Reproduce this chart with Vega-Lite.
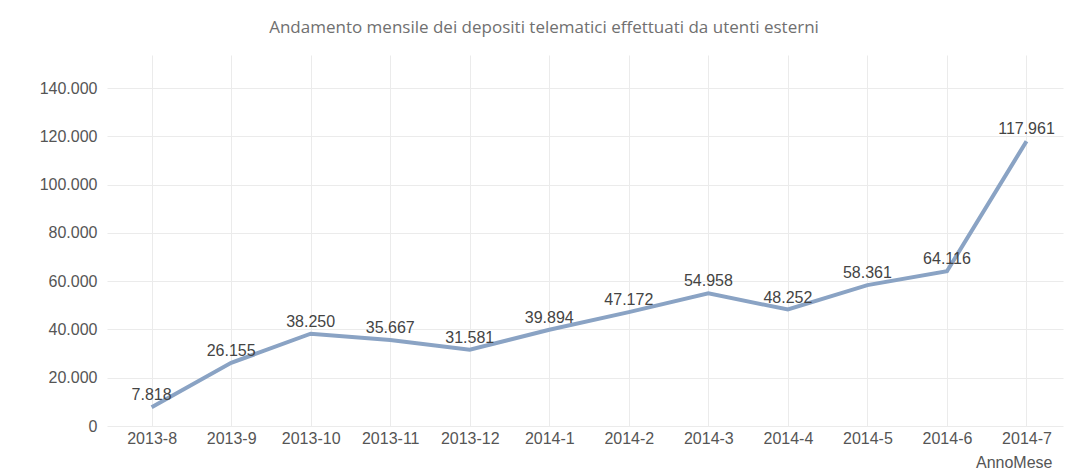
{
  "$schema": "https://vega.github.io/schema/vega-lite/v6.json",
  "autosize": {"type": "none"},
  "padding": {"left": 107, "top": 55, "right": 5, "bottom": 46},
  "width": 956,
  "height": 371,
  "background": "white",
  "title": {
    "text": "Andamento mensile dei depositi telematici effettuati da utenti esterni",
    "anchor": "middle",
    "frame": "group",
    "dx": -41,
    "offset": 1,
    "baseline": "bottom",
    "fontSize": 17,
    "fontWeight": "normal",
    "color": "#707070",
    "font": "Open Sans"
  },
  "config": {
    "locale": {"number": {"decimal": ",", "thousands": ".", "grouping": [3], "currency": ["€", ""]}},
    "view": {"stroke": null},
    "font": "Liberation Sans"
  },
  "data": {
    "values": [
      {"AnnoMese": "2013-8", "Depositi": 7818},
      {"AnnoMese": "2013-9", "Depositi": 26155},
      {"AnnoMese": "2013-10", "Depositi": 38250},
      {"AnnoMese": "2013-11", "Depositi": 35667},
      {"AnnoMese": "2013-12", "Depositi": 31581},
      {"AnnoMese": "2014-1", "Depositi": 39894},
      {"AnnoMese": "2014-2", "Depositi": 47172},
      {"AnnoMese": "2014-3", "Depositi": 54958},
      {"AnnoMese": "2014-4", "Depositi": 48252},
      {"AnnoMese": "2014-5", "Depositi": 58361},
      {"AnnoMese": "2014-6", "Depositi": 64116},
      {"AnnoMese": "2014-7", "Depositi": 117961}
    ]
  },
  "encoding": {
    "x": {
      "field": "AnnoMese",
      "type": "ordinal",
      "sort": null,
      "scale": {"type": "point", "padding": 0.51, "align": 0.55},
      "axis": {
        "labelAngle": 0,
        "labelFontSize": 16,
        "labelColor": "#555555",
        "labelPadding": 4,
        "ticks": false,
        "domain": false,
        "grid": true,
        "gridColor": "#ebebeb",
        "title": "AnnoMese",
        "titleAnchor": "end",
        "titleAlign": "right",
        "titleX": 945,
        "titleFontSize": 16,
        "titleFontWeight": "normal",
        "titleColor": "#555555",
        "titlePadding": 8
      }
    },
    "y": {
      "field": "Depositi",
      "type": "quantitative",
      "scale": {"domain": [0, 153700], "nice": false},
      "axis": {
        "values": [0, 20000, 40000, 60000, 80000, 100000, 120000, 140000],
        "format": ",d",
        "labelFontSize": 16,
        "labelColor": "#555555",
        "labelPadding": 10,
        "ticks": false,
        "domain": false,
        "grid": true,
        "gridColor": "#ebebeb",
        "title": null
      }
    }
  },
  "layer": [
    {
      "mark": {"type": "line", "color": "#8aa3c4", "strokeWidth": 4}
    },
    {
      "mark": {"type": "text", "dy": -12, "fontSize": 16, "color": "#444444", "baseline": "middle"},
      "encoding": {
        "text": {"field": "Depositi", "type": "quantitative", "format": ",d"}
      }
    }
  ]
}
